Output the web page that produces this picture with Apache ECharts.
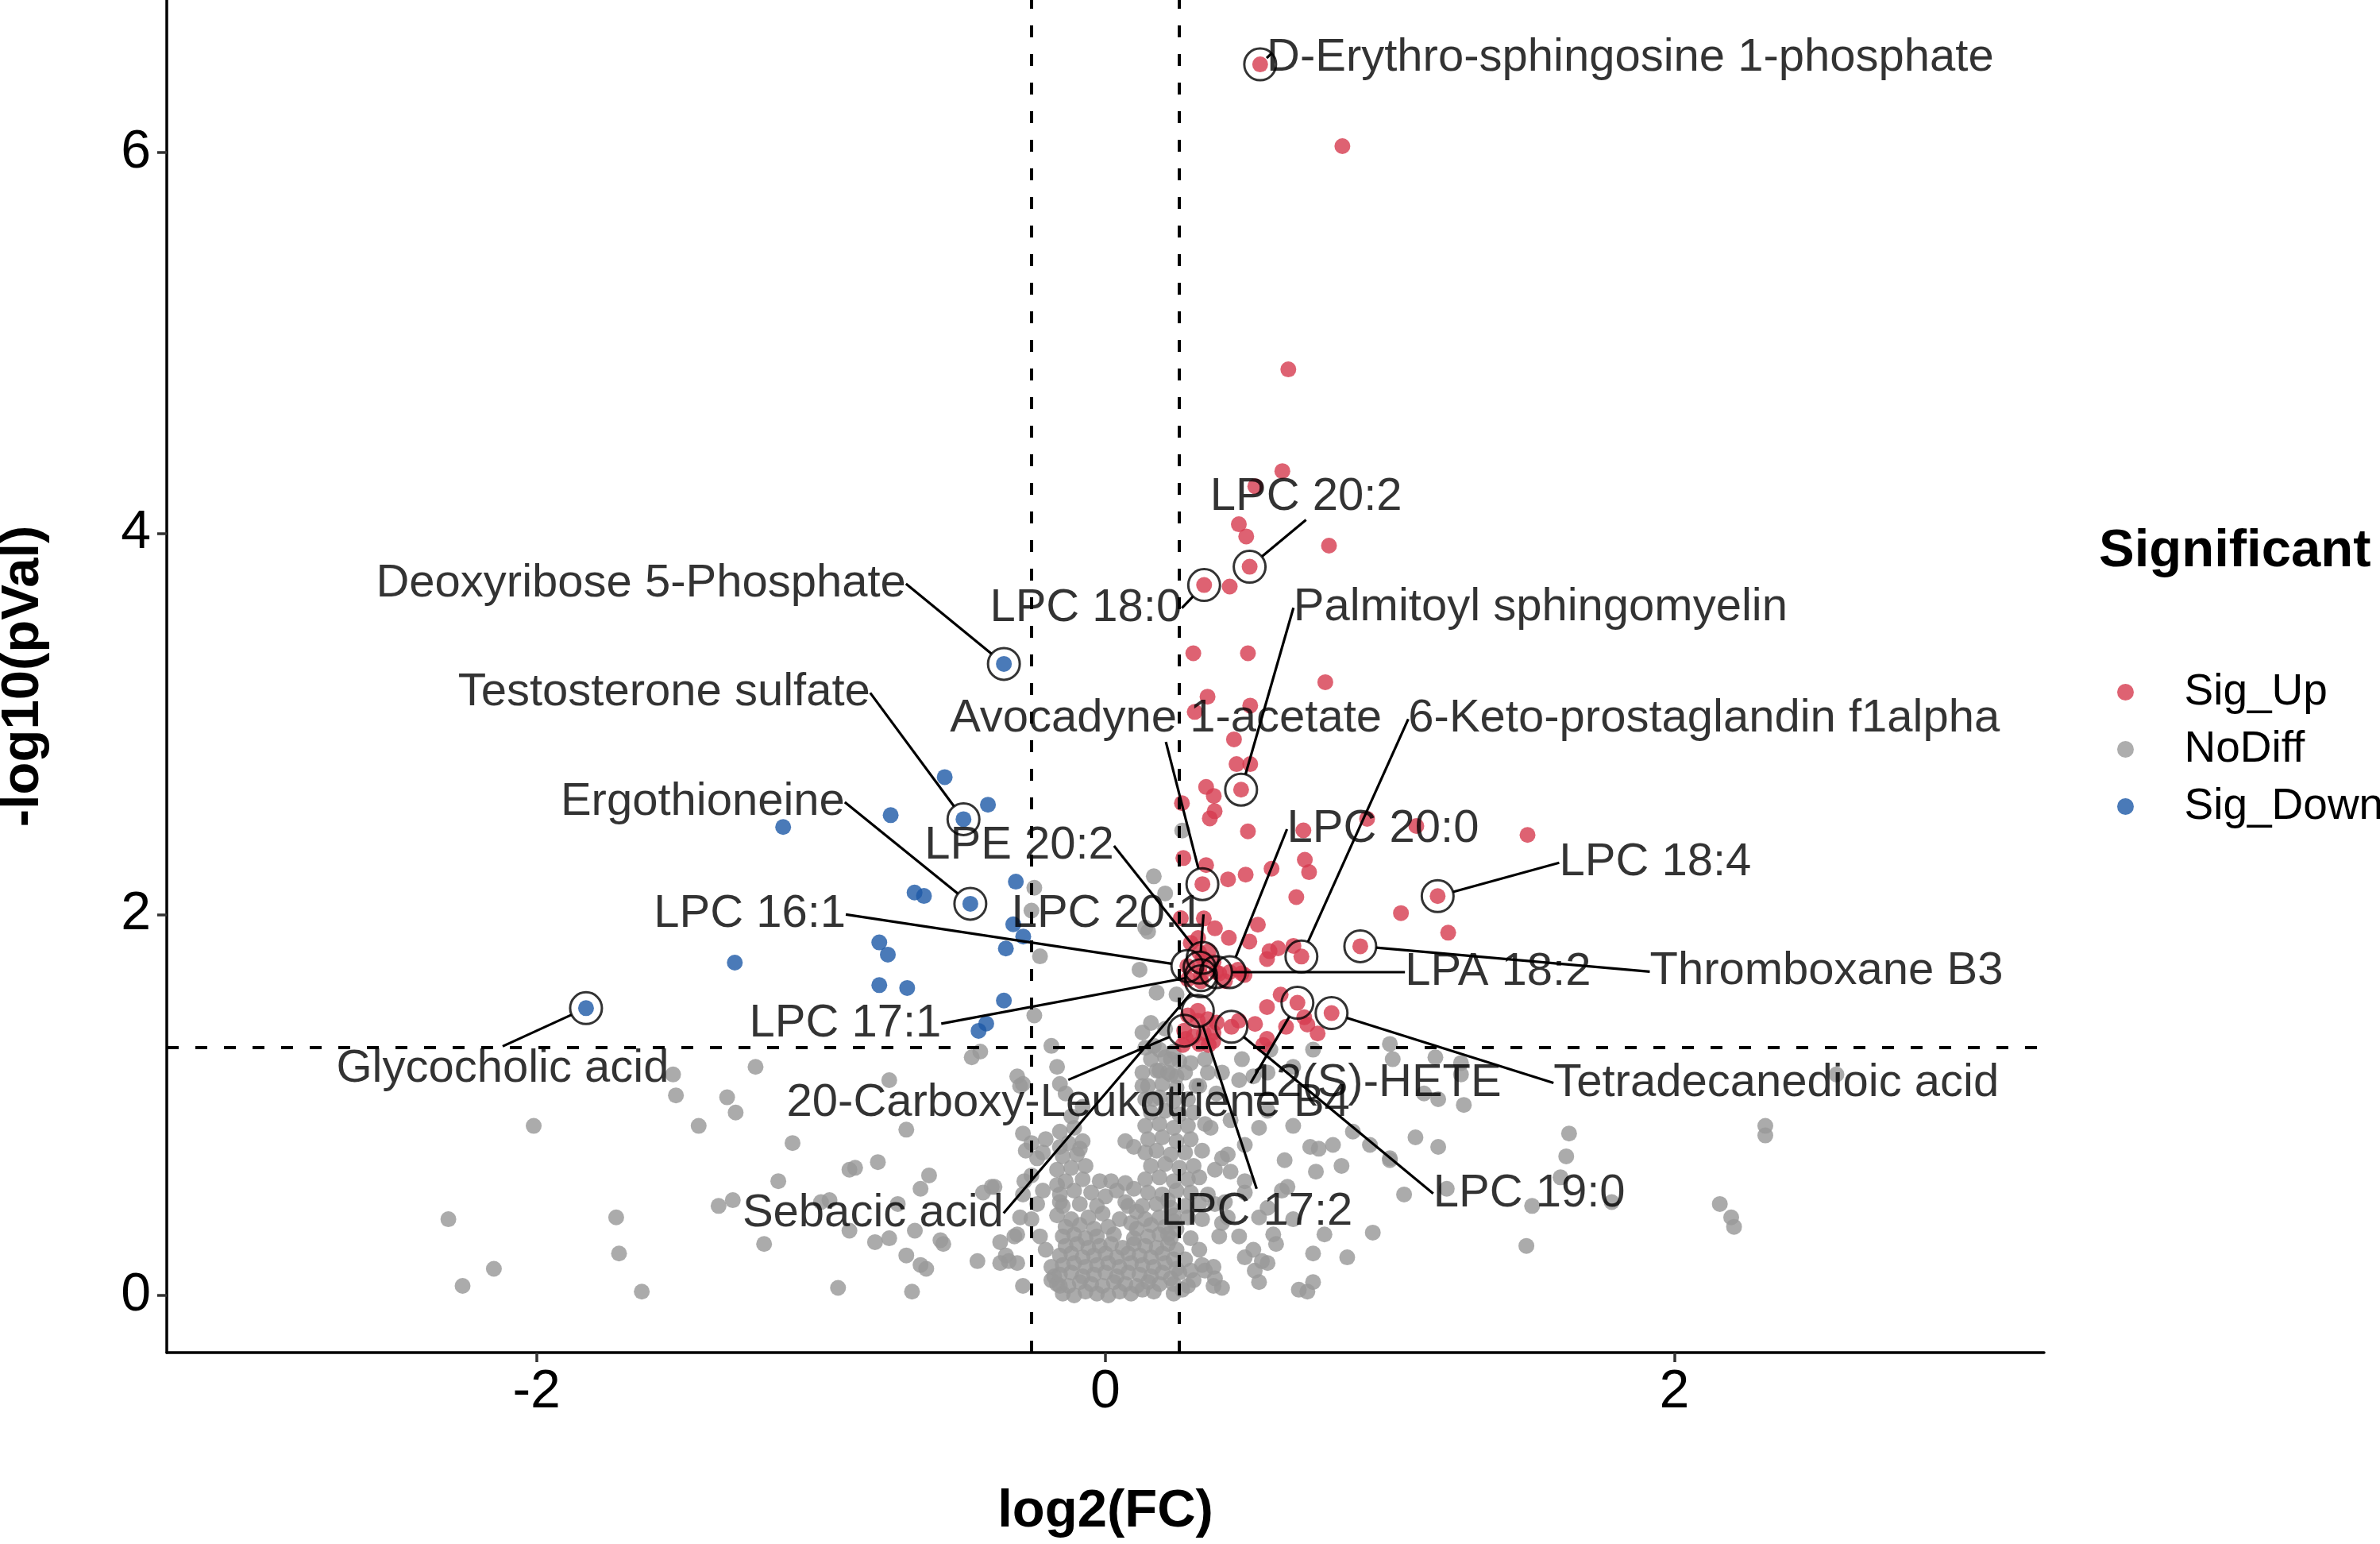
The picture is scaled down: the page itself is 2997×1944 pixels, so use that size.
<!DOCTYPE html>
<html>
<head>
<meta charset="utf-8">
<title>Volcano plot</title>
<script src="https://cdn.jsdelivr.net/npm/echarts@6.0.0/dist/echarts.min.js"></script>
<style>
    html, body { margin: 0; padding: 0; background: #fff; }
    #main-chart { width: 2997px; height: 1944px; }
</style>
</head>
<body>
<div id="main-chart"></div>
<script>
// thresholds: log2(1.2) and -log10(0.05)
const fcCut = 0.263;
const pCut = 1.301;

const xTicks = [-2, 0, 2];
const yTicks = [0, 2, 4, 6];

const groups = ['Sig_Up', 'NoDiff', 'Sig_Down'];

// [log2FC, -log10 p]
const upPoints = [
    [0.833, 6.033], [0.643, 4.861], [0.622, 4.327], [0.527, 4.247], [0.469, 4.048], [0.495, 3.984], [0.786, 3.936],
    [0.437, 3.721], [0.309, 3.371], [0.501, 3.371], [0.773, 3.219], [0.359, 3.143], [0.509, 3.096], [0.314, 3.063],
    [0.452, 2.919], [0.461, 2.789], [0.509, 2.789], [0.354, 2.669], [0.381, 2.622], [0.269, 2.584], [0.384, 2.542],
    [0.367, 2.504], [0.501, 2.436], [0.696, 2.441], [0.920, 2.502], [1.093, 2.464], [1.484, 2.417], [0.274, 2.296],
    [0.354, 2.259], [0.431, 2.184], [0.493, 2.209], [0.584, 2.240], [0.701, 2.287], [0.716, 2.222], [0.671, 2.091],
    [1.039, 2.007], [1.205, 1.904], [0.346, 1.979], [0.385, 1.927], [0.434, 1.877], [0.506, 1.858], [0.607, 1.822],
    [0.568, 1.766], [0.479, 1.691], [0.616, 1.579], [0.568, 1.514], [0.710, 1.422], [0.746, 1.375], [0.568, 1.347],
    [0.283, 1.347], [0.346, 1.375], [0.469, 1.442], [0.325, 1.442], [0.265, 1.980], [0.536, 1.946], [0.577, 1.807],
    [0.661, 1.835], [0.326, 1.876], [0.363, 1.807], [0.466, 1.709], [0.489, 1.682], [0.526, 1.425], [0.699, 1.460],
    [0.379, 1.335], [0.391, 1.432], [0.272, 1.315], [0.363, 1.315], [0.555, 1.315], [0.635, 1.410],
    [0.30, 1.85], [0.33, 1.80], [0.29, 1.66], [0.38, 1.75], [0.40, 1.69], [0.42, 1.65],
    [0.29, 1.47], [0.31, 1.36], [0.36, 1.45], [0.33, 1.32], [0.38, 1.38]
];

const downPoints = [
    [-0.565, 2.721], [-0.413, 2.576], [-0.755, 2.521], [-1.133, 2.459], [-0.315, 2.172], [-0.671, 2.115],
    [-0.638, 2.097], [-0.324, 1.948], [-0.289, 1.884], [-0.795, 1.853], [-0.765, 1.789], [-0.350, 1.821],
    [-1.303, 1.747], [-0.795, 1.629], [-0.697, 1.614], [-0.357, 1.548], [-0.419, 1.427], [-0.446, 1.389]
];

const noDiffPoints = [
    // left side
    [-2.31, 0.40], [-2.26, 0.05], [-2.15, 0.14], [-2.01, 0.89], [-1.72, 0.41], [-1.71, 0.22], [-1.63, 0.02],
    [-1.52, 1.16], [-1.51, 1.05], [-1.43, 0.89], [-1.33, 1.04], [-1.30, 0.96], [-1.23, 1.20], [-1.15, 0.60],
    [-1.10, 0.80], [-1.36, 0.47], [-1.31, 0.50], [-1.20, 0.27], [-1.00, 0.49], [-0.97, 0.50], [-0.90, 0.66],
    [-0.88, 0.67], [-0.80, 0.70], [-0.76, 1.13], [-0.73, 0.48], [-0.70, 0.87], [-0.94, 0.04], [-0.90, 0.34],
    [-0.81, 0.28], [-0.76, 0.30], [-0.68, 0.02], [-0.67, 0.34], [-0.65, 0.56], [-0.62, 0.63], [-0.57, 0.27],
    [-0.70, 0.21], [-0.65, 0.16], [-0.63, 0.14], [-0.58, 0.29], [-0.44, 1.28], [-0.47, 1.25], [-0.45, 0.18],
    [-0.43, 0.54], [-0.40, 0.57], [-0.37, 0.28], [-0.35, 0.21], [-0.34, 0.18], [-0.32, 0.31], [-0.30, 0.41],
    [-0.29, 0.53], [-0.28, 0.76], [-0.29, 0.85], [-0.30, 1.10], [-0.29, 0.05], [-0.37, 0.17], [-0.31, 0.17],
    [-0.19, 0.08], [-0.19, 0.15], [-0.26, 0.40], [-0.23, 0.31], [-0.24, 0.72], [-0.26, 0.63], [-0.17, 0.58],
    [-0.16, 0.49], [-0.21, 0.82], [-0.16, 0.78], [-0.09, 0.77], [0.07, 0.81], [0.10, 0.78], [0.02, 0.60],
    [0.07, 0.49], [0.09, 0.38],
    [-0.26, 0.80], [-0.22, 0.75], [-0.285, 0.60], [-0.22, 0.55], [-0.24, 0.48], [-0.39, 0.57], [-0.31, 0.32],
    [-0.21, 0.24], [-0.18, 0.10], [-0.16, 0.05],
    [-0.19, 1.31], [-0.17, 1.20], [-0.16, 1.11], [-0.14, 1.06], [-0.31, 1.15], [-0.29, 1.11],
    // inside fold-change band, above p cut
    [-0.25, 2.14], [-0.26, 2.02], [-0.23, 1.78], [-0.25, 1.47], [0.17, 2.20], [0.27, 2.44], [0.15, 1.91],
    [0.12, 1.71], [0.14, 1.93], [0.21, 2.11], [0.18, 1.59], [0.25, 1.58], [0.16, 1.43], [0.13, 1.38], [0.21, 1.40],
    // right of the band, just below p cut
    [0.17, 1.31], [0.19, 1.18], [0.23, 1.24], [0.30, 1.22], [0.35, 1.24], [0.25, 1.15], [0.41, 1.17],
    [0.48, 1.24], [0.52, 1.15], [0.58, 1.29], [0.73, 1.29], [0.22, 1.17], [0.13, 1.10], [0.17, 1.03],
    [0.36, 1.17], [0.33, 1.10], [0.47, 1.13], [0.39, 1.06], [0.57, 1.17], [0.66, 1.20], [0.57, 0.97],
    [0.66, 0.89], [0.54, 0.88], [0.44, 0.92], [0.37, 0.88], [0.41, 0.72], [0.49, 0.79], [0.44, 0.65],
    [0.49, 0.54], [0.42, 0.49], [0.41, 0.38], [0.47, 0.31], [0.52, 0.24], [0.57, 0.17], [0.54, 0.07],
    [0.38, 0.15], [0.41, 0.04], [0.49, 0.20], [0.59, 0.32], [0.66, 0.40], [0.73, 0.22], [0.68, 0.03],
    [0.73, 0.07], [0.75, 0.77], [0.80, 0.79], [0.87, 0.86], [0.94, 0.33], [0.85, 0.20], [1.05, 0.53],
    [1.09, 0.83], [1.17, 0.78], [1.00, 0.72], [0.77, 0.32], [0.64, 0.57], [0.57, 0.46], [0.63, 0.71],
    [0.83, 0.68], [0.74, 0.65], [0.72, 0.78],
    [0.43, 0.74], [0.385, 0.66], [0.49, 0.60], [0.385, 0.48], [0.43, 0.41], [0.54, 0.41], [0.40, 0.31],
    [0.34, 0.16], [0.385, 0.09], [0.30, 0.13], [0.29, 0.05], [0.525, 0.13], [0.55, 0.18], [0.60, 0.27],
    [0.62, 0.55], [0.71, 0.02],
    [1.00, 1.32], [1.01, 1.24], [1.16, 1.25], [1.25, 1.22], [1.25, 1.16], [1.12, 1.06], [1.17, 1.03],
    [1.26, 1.00], [0.93, 0.79], [1.00, 0.71], [1.20, 0.56],
    [1.63, 0.85], [1.62, 0.73], [1.60, 0.62], [1.50, 0.47], [1.78, 0.49], [1.48, 0.26], [2.16, 0.48],
    [2.20, 0.41], [2.21, 0.36], [2.32, 0.89], [2.32, 0.84], [2.57, 1.16],
    // dense core near zero
    [-0.15, 0.01], [-0.11, 0.00], [-0.07, 0.02], [-0.03, 0.01], [0.01, 0.00], [0.05, 0.02], [0.09, 0.01], [0.13, 0.03], [0.17, 0.02],
    [-0.17, 0.06], [-0.13, 0.05], [-0.09, 0.07], [-0.05, 0.06], [-0.01, 0.05], [0.03, 0.07], [0.07, 0.06], [0.11, 0.05], [0.15, 0.07], [0.19, 0.06],
    [-0.16, 0.11], [-0.12, 0.12], [-0.08, 0.10], [-0.04, 0.11], [0.00, 0.12], [0.04, 0.10], [0.08, 0.12], [0.12, 0.11], [0.16, 0.10], [0.20, 0.12],
    [-0.15, 0.16], [-0.11, 0.17], [-0.07, 0.15], [-0.03, 0.16], [0.01, 0.17], [0.05, 0.15], [0.09, 0.17], [0.13, 0.16], [0.17, 0.15], [0.21, 0.17],
    [-0.16, 0.21], [-0.12, 0.22], [-0.08, 0.20], [-0.04, 0.21], [0.00, 0.22], [0.04, 0.20], [0.08, 0.22], [0.12, 0.21], [0.16, 0.20], [0.20, 0.22],
    [-0.14, 0.26], [-0.10, 0.27], [-0.06, 0.25], [-0.02, 0.26], [0.02, 0.27], [0.06, 0.25], [0.10, 0.27], [0.14, 0.26], [0.18, 0.25], [0.22, 0.27],
    [-0.15, 0.31], [-0.11, 0.32], [-0.07, 0.30], [-0.03, 0.31], [0.03, 0.32], [0.10, 0.30], [0.15, 0.31], [0.19, 0.32], [0.23, 0.30],
    [-0.14, 0.36], [-0.09, 0.37], [-0.04, 0.35], [0.01, 0.36], [0.11, 0.35], [0.16, 0.37], [0.21, 0.36], [0.25, 0.35],
    [0.24, 0.01], [0.23, 0.09], [0.25, 0.14], [0.24, 0.19], [0.25, 0.24], [0.22, 0.32], [0.24, 0.42], [0.22, 0.50],
    [0.27, 0.03], [0.31, 0.08], [0.35, 0.13], [0.28, 0.19], [0.33, 0.24], [0.26, 0.12], [0.38, 0.05], [0.30, 0.30], [0.24, 0.06],
    [-0.17, 0.42], [-0.12, 0.40], [-0.06, 0.41], [-0.01, 0.43], [-0.15, 0.47], [-0.09, 0.48], [-0.03, 0.47],
    [-0.16, 0.53], [-0.11, 0.55], [-0.05, 0.54], [0.00, 0.52], [-0.14, 0.60], [-0.08, 0.61], [-0.02, 0.60],
    [-0.17, 0.66], [-0.12, 0.67], [-0.07, 0.68], [-0.15, 0.73], [-0.10, 0.74], [-0.13, 0.80],
    [-0.08, 0.81], [-0.16, 0.86], [-0.11, 0.88], [-0.12, 0.94], [-0.08, 0.99],
    [0.05, 0.40], [0.08, 0.47], [0.04, 0.55], [0.07, 0.59], [0.11, 0.44], [0.10, 0.56],
    [0.14, 0.40], [0.19, 0.41], [0.24, 0.39], [0.29, 0.41], [0.34, 0.40],
    [0.13, 0.47], [0.18, 0.48], [0.23, 0.46], [0.28, 0.47], [0.33, 0.48],
    [0.15, 0.54], [0.20, 0.53], [0.25, 0.55], [0.30, 0.54], [0.36, 0.53],
    [0.14, 0.61], [0.19, 0.62], [0.24, 0.60], [0.29, 0.61], [0.33, 0.62],
    [0.16, 0.68], [0.21, 0.69], [0.26, 0.67], [0.31, 0.68],
    [0.14, 0.75], [0.18, 0.76], [0.23, 0.74], [0.28, 0.75], [0.34, 0.76],
    [0.15, 0.82], [0.20, 0.83], [0.25, 0.81], [0.30, 0.82],
    [0.14, 0.89], [0.19, 0.90], [0.24, 0.88], [0.29, 0.89], [0.35, 0.90],
    [0.16, 0.96], [0.21, 0.97], [0.26, 0.95], [0.31, 0.96],
    [0.14, 1.03], [0.19, 1.04], [0.24, 1.02], [0.29, 1.03],
    [0.15, 1.10], [0.20, 1.11], [0.25, 1.09], [0.32, 1.10],
    [0.13, 1.17], [0.18, 1.18], [0.23, 1.16], [0.28, 1.17],
    [0.16, 1.24], [0.21, 1.25], [0.26, 1.23],
    [0.14, 1.30], [0.19, 1.29], [0.24, 1.28]
];

// labelled metabolites: name, log2FC, -log10 p, group
const labeledPoints = [
    ['D-Erythro-sphingosine 1-phosphate', 0.544, 6.462, 'Sig_Up'],
    ['LPC 20:2', 0.507, 3.825, 'Sig_Up'],
    ['LPC 18:0', 0.347, 3.729, 'Sig_Up'],
    ['Deoxyribose 5-Phosphate', -0.357, 3.315, 'Sig_Down'],
    ['Palmitoyl sphingomyelin', 0.477, 2.655, 'Sig_Up'],
    ['Testosterone sulfate', -0.499, 2.500, 'Sig_Down'],
    ['Avocadyne 1-acetate', 0.341, 2.159, 'Sig_Up'],
    ['6-Keto-prostaglandin f1alpha', 0.689, 1.779, 'Sig_Up'],
    ['Ergothioneine', -0.475, 2.056, 'Sig_Down'],
    ['LPC 20:0', 0.437, 1.697, 'Sig_Up'],
    ['LPC 18:4', 1.168, 2.096, 'Sig_Up'],
    ['LPE 20:2', 0.342, 1.772, 'Sig_Up'],
    ['LPC 20:1', 0.331, 1.721, 'Sig_Up'],
    ['LPC 16:1', 0.288, 1.729, 'Sig_Up'],
    ['LPC 17:1', 0.336, 1.681, 'Sig_Up'],
    ['LPA 18:2', 0.389, 1.697, 'Sig_Up'],
    ['Thromboxane B3', 0.896, 1.833, 'Sig_Up'],
    ['Glycocholic acid', -1.826, 1.508, 'Sig_Down'],
    ['12(S)-HETE', 0.675, 1.536, 'Sig_Up'],
    ['Tetradecanedioic acid', 0.795, 1.482, 'Sig_Up'],
    ['20-Carboxy-Leukotriene B4', 0.277, 1.390, 'Sig_Up'],
    ['Sebacic acid', 0.336, 1.649, 'Sig_Up'],
    ['LPC 17:2', 0.325, 1.494, 'Sig_Up'],
    ['LPC 19:0', 0.443, 1.410, 'Sig_Up']
];

// where each repelled label sits, in pixels from its point
const labelOffsets = {
    'D-Erythro-sphingosine 1-phosphate': [466, -8],
    'LPC 20:2': [71, -88],
    'LPC 18:0': [-149, 29],
    'Deoxyribose 5-Phosphate': [-457, -101],
    'Palmitoyl sphingomyelin': [377, -229],
    'Testosterone sulfate': [-377, -159],
    'Avocadyne 1-acetate': [-46, -208],
    '6-Keto-prostaglandin f1alpha': [507, -299],
    'Ergothioneine': [-337, -128],
    'LPC 20:0': [193, -180],
    'LPC 18:4': [274, -42],
    'LPE 20:2': [-231, -141],
    'LPC 20:1': [-116, -67],
    'LPC 16:1': [-551, -65],
    'LPC 17:1': [-448, 61],
    'LPA 18:2': [355, 0],
    'Thromboxane B3': [587, 32],
    'Glycocholic acid': [-105, 77],
    '12(S)-HETE': [99, 101],
    'Tetradecanedioic acid': [560, 88],
    '20-Carboxy-Leukotriene B4': [-146, 91],
    'Sebacic acid': [-413, 292],
    'LPC 17:2': [74, 253],
    'LPC 19:0': [375, 210]
};

const colors = { Sig_Up: '#D63B4F', NoDiff: '#999999', Sig_Down: '#1D59A6' };
const FONT = '"Liberation Sans", Arial, Helvetica, sans-serif';

let mainChart;

document.addEventListener('DOMContentLoaded', () => {
    const chartDom = document.getElementById('main-chart');
    mainChart = echarts.init(chartDom, null, { renderer: 'canvas' });
    mainChart.setOption(buildOption());
});

function pointsOf(group, base) {
    const extra = labeledPoints.filter(p => p[3] === group).map(p => [p[1], p[2]]);
    return base.concat(extra);
}

function buildOption() {
    const dotSeries = (name, data, opacity) => ({
        name: name,
        type: 'scatter',
        data: data,
        symbolSize: 20,
        itemStyle: { color: colors[name], opacity: opacity },
        emphasis: { disabled: true },
        silent: true
    });

    const gray = dotSeries('NoDiff', noDiffPoints, 0.82);
    gray.markLine = {
        silent: true,
        symbol: ['none', 'none'],
        label: { show: false },
        lineStyle: { color: '#000', width: 4, type: [15, 21] },
        data: [{ xAxis: -fcCut }, { xAxis: fcCut }, { yAxis: pCut }]
    };

    return {
        animation: false,
        backgroundColor: '#fff',
        textStyle: { fontFamily: FONT },
        title: {
            text: 'Significant',
            left: 2643,
            top: 661,
            padding: 0,
            textStyle: { fontFamily: FONT, fontSize: 67, fontWeight: 'bold', color: '#000' }
        },
        legend: {
            data: groups.map(g => ({ name: g, itemStyle: { opacity: 0.8 } })),
            orient: 'vertical',
            left: 2666,
            top: 844,
            padding: 0,
            itemWidth: 138,
            itemHeight: 21,
            itemGap: 17,
            icon: 'circle',
            selectedMode: false,
            textStyle: { fontFamily: FONT, fontSize: 55, lineHeight: 55, color: '#000' }
        },
        grid: { left: 210, right: 423, top: 0, bottom: 241, outerBoundsMode: 'none' },
        xAxis: {
            type: 'value',
            min: -3.3,
            max: 3.3,
            name: 'log2(FC)',
            nameLocation: 'middle',
            nameGap: 167,
            nameTextStyle: { fontFamily: FONT, fontSize: 67, fontWeight: 'bold', color: '#000' },
            axisLine: { onZero: false, lineStyle: { color: '#000', width: 3.5 } },
            axisTick: { customValues: xTicks, length: 12, lineStyle: { color: '#333', width: 3.5 } },
            axisLabel: { customValues: xTicks, margin: 16, fontSize: 68, color: '#000', fontFamily: FONT },
            splitLine: { show: false }
        },
        yAxis: {
            type: 'value',
            min: -0.3,
            max: 6.8,
            name: '-log10(pVal)',
            nameLocation: 'middle',
            nameGap: 147,
            nameRotate: 90,
            nameTextStyle: { fontFamily: FONT, fontSize: 67, fontWeight: 'bold', color: '#000' },
            axisLine: { onZero: false, lineStyle: { color: '#000', width: 3.5 } },
            axisTick: { customValues: yTicks, length: 12, lineStyle: { color: '#333', width: 3.5 } },
            axisLabel: { customValues: yTicks, margin: 20, fontSize: 68, color: '#000', fontFamily: FONT },
            splitLine: { show: false }
        },
        series: [
            gray,
            dotSeries('Sig_Down', pointsOf('Sig_Down', downPoints), 0.8),
            dotSeries('Sig_Up', pointsOf('Sig_Up', upPoints), 0.8),
            {
                name: 'labels',
                type: 'scatter',
                z: 10,
                silent: true,
                data: labeledPoints.map(p => ({ name: p[0], value: [p[1], p[2]] })),
                symbol: 'circle',
                symbolSize: 40,
                itemStyle: { color: 'rgba(0,0,0,0)', borderColor: '#000', borderWidth: 3 },
                label: {
                    show: true,
                    position: 'inside',
                    formatter: '{b}',
                    fontFamily: FONT,
                    fontSize: 58,
                    color: '#000'
                },
                labelLine: { show: true, lineStyle: { color: '#000', width: 3.2 } },
                labelLayout: params => {
                    const off = labelOffsets[labeledPoints[params.dataIndex][0]] || [0, 0];
                    return { dx: off[0], dy: off[1] };
                }
            }
        ]
    };
}
</script>
</body>
</html>
